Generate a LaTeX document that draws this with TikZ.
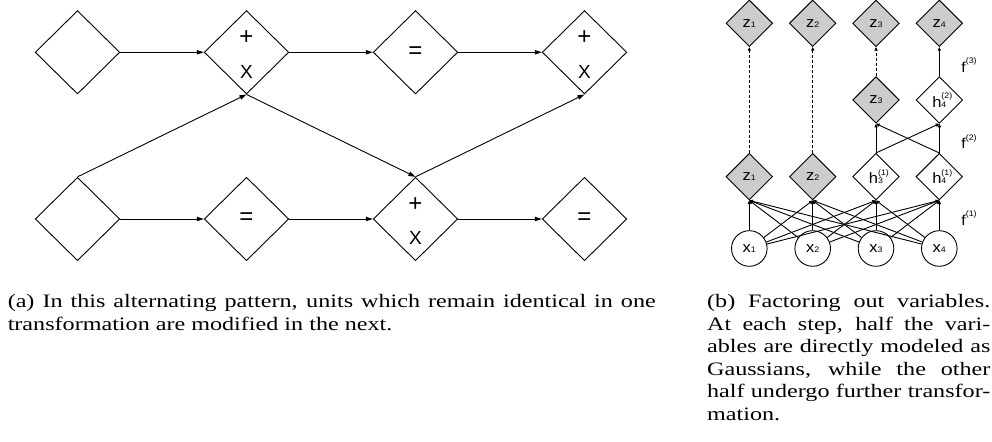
\documentclass[tikz,border=0pt]{standalone}
\usepackage{fontspec}
\setmainfont{Liberation Serif}[FakeStretch=1.27]
\newfontfamily\diagfont{Liberation Sans}[FakeStretch=1.1]
\newfontfamily\opfont{Liberation Sans}
\usetikzlibrary{shapes.geometric,arrows.meta}
\definecolor{gaussgray}{gray}{0.8}
\newcommand{\lowidx}[1]{{\fontsize{4}{4}\selectfont#1}}
\newcommand{\upidx}[1]{\raisebox{4.2pt}{\fontsize{4}{4}\selectfont(#1)}}
\newcommand{\bigop}[1]{{\fontsize{12}{12}\selectfont#1}}
\newcommand{\addmul}{\rule{0pt}{9pt}\bigop{+}\\X}
\begin{document}
\begin{tikzpicture}[x=0.5pt,y=-0.5pt,line width=0.45pt]
	\tikzstyle{unit_style} = [draw,diamond,minimum width=42.3pt,minimum height=41.7pt,inner sep=0pt,align=center,font=\opfont\fontsize{9.5}{16.75}\selectfont]
	\tikzstyle{flow_arrow} = [-{Triangle[length=3.5pt,width=2.2pt]}]
	\tikzstyle{var_style} = [draw,diamond,minimum size=23.3pt,inner sep=0pt,font=\diagfont\fontsize{7.5}{8}\selectfont]
	\tikzstyle{gauss_style} = [var_style,fill=gaussgray]
	\tikzstyle{input_style} = [draw,circle,minimum size=17.8pt,inner sep=0pt,font=\diagfont\fontsize{7.5}{8}\selectfont]
	\tikzstyle{small_arrow} = [-{Triangle[length=1.8pt,width=1.6pt]}]
	\tikzstyle{caption_style} = [anchor=north west,inner sep=0pt,align=justify,font=\fontsize{9.5}{11.25}\selectfont]
	\useasboundingbox (0,0) rectangle (992,442);
	%%% alternating units
	\path (77.5,52.3) node[unit_style] (A-1) {};
	\path (246.5,52.3) node[unit_style] (A-2) {\addmul};
	\path (415.5,52.3) node[unit_style] (A-3) {\bigop{=}};
	\path (584.5,52.3) node[unit_style] (A-4) {\addmul};
	\path (77.5,219) node[unit_style] (B-1) {};
	\path (246.5,219) node[unit_style] (B-2) {\bigop{=}};
	\path (415.5,219) node[unit_style] (B-3) {\addmul};
	\path (584.5,219) node[unit_style] (B-4) {\bigop{=}};
	\foreach[count=\j from 2] \i in{1,2,3}{
		\draw[flow_arrow] (A-\i.east)--(A-\j.west);
		\draw[flow_arrow] (B-\i.east)--(B-\j.west);
	}
	\draw[flow_arrow] (B-1.north)--(A-2.south);
	\draw[flow_arrow] (A-2.south)--(B-3.north);
	\draw[flow_arrow] (B-3.north)--(A-4.south);
	%%% factoring out
	\foreach[count=\i from 1] \x in{749.3,812.7,876,939.3}{
		\path (\x,23.3) node[gauss_style] (Z-\i) {z\lowidx{\i}};
		\path (\x,248.5) node[input_style] (X-\i) {x\lowidx{\i}};
	}
	\path (749.3,176.7) node[gauss_style] (L-1) {z\lowidx{1}};
	\path (812.7,176.7) node[gauss_style] (L-2) {z\lowidx{2}};
	\path (876,176.7) node[var_style] (L-3) {h\rlap{\upidx{1}}\lowidx{3}};
	\path (939.3,176.7) node[var_style] (L-4) {h\rlap{\upidx{1}}\lowidx{4}};
	\path (876,100) node[gauss_style] (M-3) {z\lowidx{3}};
	\path (939.3,100) node[var_style] (M-4) {h\rlap{\upidx{2}}\lowidx{4}};
	\foreach \i in{1,...,4}{
		\foreach \j in{1,...,4}{
			\draw[small_arrow] (X-\i)--(L-\j.south);
		}
	}
	\foreach \i in{3,4}{
		\foreach \j in{3,4}{
			\draw[small_arrow] (L-\i.north)--(M-\j.south);
		}
	}
	\draw[small_arrow,dash pattern=on 1.5pt off 1pt] (L-1.north)--(Z-1.south);
	\draw[small_arrow,dash pattern=on 1.5pt off 1pt] (L-2.north)--(Z-2.south);
	\draw[small_arrow,dash pattern=on 1.5pt off 1pt] (M-3.north)--(Z-3.south);
	\draw[small_arrow] (M-4.north)--(Z-4.south);
	\foreach[count=\i from 1] \y in{218.3,141.7,65}{
		\path (969,\y) node[font=\diagfont\fontsize{7.2}{8}\selectfont] (F-\i) {f\upidx{\i}};
	}
	%%% captions
	\node[caption_style,text width=324pt] (cap-a) at (7.3,293.9) {(a) In this alternating pattern, units which remain identical in one\linebreak transformation are modified in the next.};
	\node[caption_style,text width=141.6pt] (cap-b) at (706.7,293.9) {(b) Factoring out variables.\linebreak At each step, half the vari-\linebreak ables are directly modeled as\linebreak Gaussians, while the other\linebreak half undergo further transfor-\linebreak mation.};
\end{tikzpicture}
\end{document}
